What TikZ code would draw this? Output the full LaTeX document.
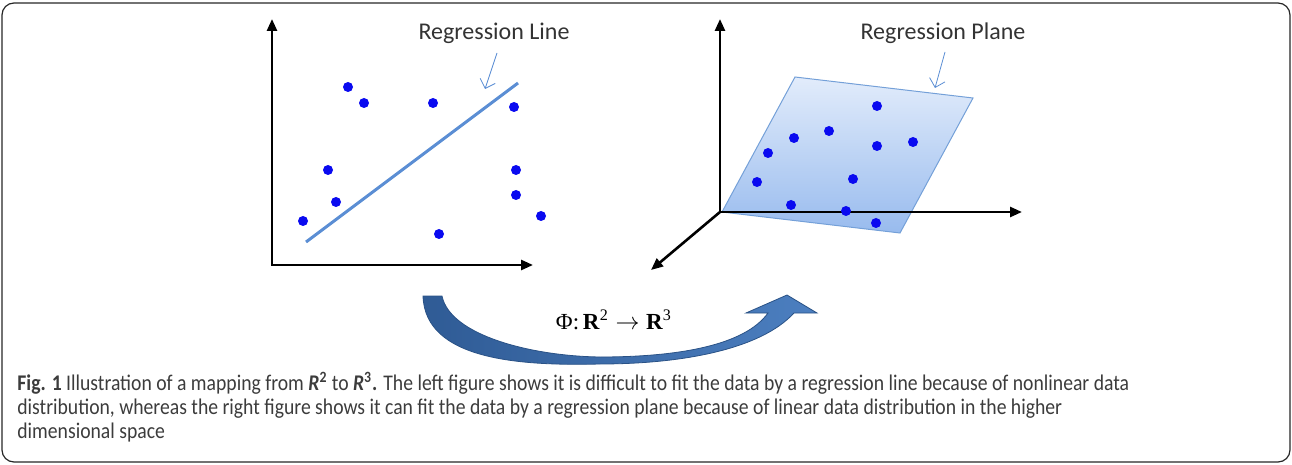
\documentclass[tikz,border=0pt]{standalone}
\usepackage{fontspec}
\setmainfont{Carlito}
\newfontfamily\capfont[FakeStretch=0.878]{Carlito}
\newfontfamily\mapfont{Liberation Serif}
\usetikzlibrary{arrows.meta,positioning}
\definecolor{dotblue}{HTML}{0A0AF0}
\definecolor{lineblue}{HTML}{5B8ED4}
\definecolor{planetop}{HTML}{E2ECFB}
\definecolor{planebot}{HTML}{98BBEE}
\definecolor{planeedge}{HTML}{74A0D8}
\definecolor{swoopdark}{HTML}{2F5B95}
\definecolor{swooplight}{HTML}{4C7FC0}
\definecolor{captext}{HTML}{3C3C3C}

\begin{document}
\begin{tikzpicture}[x=0.5pt,y=-0.5pt,>={Triangle[length=6pt,width=5pt]},
    axis/.style={line width=1.3pt},
    dot/.style={circle,fill=dotblue,inner sep=0pt,minimum size=5pt},
    lbl/.style={font=\fontsize{12}{14}\selectfont,text=black!80},
    pointer/.style={-{Straight Barb[length=4pt]},lineblue,line width=0.4pt},
    regline/.style={lineblue,line width=1.5pt}]
  \useasboundingbox (0,0) rectangle (1292,465);
  \draw[black!85,line width=0.6pt,rounded corners=6pt] (2,3) rectangle (1290,462);

  % left plot
  \coordinate (lo) at (272,265);
  \coordinate (ly) at (272,19);
  \coordinate (lx) at (533,265);
  \draw[axis,<->] (ly) -- (lo) -- (lx);
  \coordinate (ra) at (306,242);
  \coordinate (rb) at (518,83);
  \draw[regline] (ra) -- (rb);
  \foreach \n/\p in {a/{348,87},b/{364,103},c/{433,103},d/{514,107},e/{328,170},
                     f/{336,202},g/{303,221},h/{439,234},i/{516,170},j/{516,195},k/{541,216}}
    \node[dot] (l\n) at (\p) {};
  \node[lbl] (rl) at (494,33) {Regression Line};
  \coordinate (rls) at (497,53);
  \coordinate (rlt) at (485,89);
  \draw[pointer] (rls) -- (rlt);

  % right plot
  \coordinate (p1) at (795,77);
  \coordinate (p2) at (973,98);
  \coordinate (p3) at (900,233);
  \coordinate (p4) at (722,212);
  \shade[top color=planetop,bottom color=planebot,draw=planeedge,line width=0.5pt]
    (p1) -- (p2) -- (p3) -- (p4) -- cycle;
  \coordinate (ro) at (720,212);
  \coordinate (ry) at (720,19);
  \coordinate (rx) at (1022,212);
  \coordinate (rz) at (651,270);
  \draw[axis,<->] (ry) -- (ro) -- (rx);
  \draw[axis,->] (ro) -- (rz);
  \foreach \n/\p in {a/{877,106},b/{794,138},c/{829,131},d/{768,153},e/{877,146},f/{913,142},
                     g/{757,182},h/{853,179},i/{791,205},j/{846,211},k/{876,223}}
    \node[dot] (r\n) at (\p) {};
  \node[lbl] (rp) at (943,33) {Regression Plane};
  \coordinate (rps) at (945,52);
  \coordinate (rpt) at (935,88);
  \draw[pointer] (rps) -- (rpt);

  % mapping arrow
  \shade[left color=swoopdark,right color=swooplight,draw=swoopdark!90!black,line width=0.4pt]
    (423,296) -- (442,296)
    .. controls (450,335) and (530,356) .. (600,357)
    .. controls (680,357) and (745,345) .. (768,313)
    -- (746,313) -- (787,295) -- (817,313) -- (794,313)
    .. controls (760,350) and (680,364) .. (600,364)
    .. controls (520,366) and (425,360) .. (423,296) -- cycle;
  \node[anchor=base,font=\mapfont\fontsize{11.5}{13}\selectfont] (phi) at (614,329)
    {Φ:\,\textbf{R}\textsuperscript{2}$\;\rightarrow\;$\textbf{R}\textsuperscript{3}};

  % caption
  \node[anchor=base west,align=left,inner sep=0pt,text=captext,
        font=\capfont\fontsize{11.2}{12}\selectfont] (cap) at (17,438)
    {\textbf{Fig. 1} Illustration of a mapping from {\bfseries\itshape R}\textsuperscript{\bfseries 2} to {\bfseries\itshape R}\textsuperscript{\bfseries 3}\textbf{.} The left figure shows it is difficult to fit the data by a regression line because of nonlinear data\\
     distribution, whereas the right figure shows it can fit the data by a regression plane because of linear data distribution in the higher\\
     dimensional space};
\end{tikzpicture}
\end{document}
